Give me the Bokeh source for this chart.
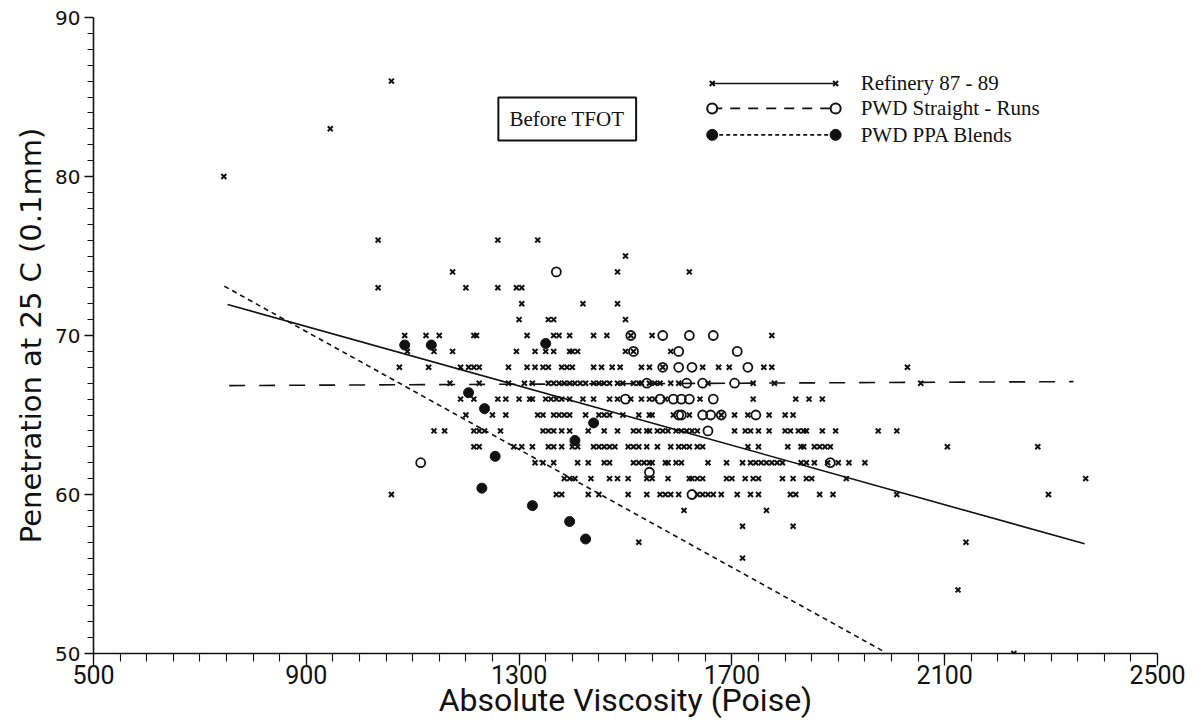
from bokeh.plotting import figure
from bokeh.models import FixedTicker
from bokeh.embed import file_html
from bokeh.resources import INLINE
from bokeh.core.properties import value

# ---------------- data ----------------
# Refinery 87-89 (x markers): viscosity values for each penetration level
r86 = [1060]
r83 = [945]
r80 = [745]
r76 = [1035, 1260, 1335]
r75 = [1500]
r74 = [1175, 1485, 1620]
r73 = [1035, 1200, 1260, 1295, 1305]
r72 = [1305, 1420, 1485]
r71 = [1300, 1355, 1365, 1500]
r70 = [1085, 1125, 1150, 1215, 1220, 1315, 1365, 1375, 1395, 1440, 1465, 1510, 1550, 1775]
r69 = [1090, 1140, 1175, 1295, 1330, 1350, 1365, 1395, 1400, 1410, 1500, 1515, 1585]
r68 = [1075, 1130, 1190, 1205, 1215, 1225, 1280, 1315, 1330, 1345, 1355, 1380, 1390, 1400,
       1440, 1455, 1475, 1490, 1530, 1545, 1570, 1645, 1675, 1695, 1760, 1775, 2030]
r67 = [1170, 1225, 1280, 1310, 1325, 1355, 1365, 1375, 1385, 1395, 1405, 1415, 1425, 1440,
       1450, 1460, 1470, 1485, 1495, 1515, 1525, 1530, 1545, 1555, 1565, 1585, 1600, 1655,
       1740, 1780, 2055]
r66 = [1190, 1215, 1260, 1275, 1300, 1320, 1325, 1350, 1360, 1370, 1380, 1395, 1420, 1440,
       1470, 1485, 1510, 1530, 1545, 1555, 1575, 1640, 1740, 1820, 1845, 1870]
r65 = [1200, 1250, 1275, 1335, 1345, 1365, 1375, 1385, 1395, 1425, 1450, 1460, 1470, 1495,
       1525, 1545, 1550, 1590, 1620, 1680, 1705, 1730, 1770, 1800, 1815]
r64 = [1140, 1160, 1215, 1225, 1235, 1265, 1345, 1355, 1365, 1380, 1395, 1430, 1460, 1485,
       1515, 1525, 1540, 1545, 1560, 1570, 1580, 1595, 1605, 1615, 1625, 1635, 1705, 1725,
       1735, 1750, 1770, 1800, 1810, 1825, 1835, 1840, 1870, 1895, 1975, 2010]
r63 = [1215, 1225, 1290, 1305, 1325, 1355, 1365, 1380, 1400, 1410, 1440, 1450, 1460, 1470,
       1480, 1505, 1515, 1525, 1540, 1560, 1585, 1600, 1610, 1620, 1635, 1645, 1730, 1750,
       1805, 1830, 1835, 1855, 1865, 1875, 1885, 2105, 2275]
r62 = [1330, 1345, 1365, 1410, 1430, 1460, 1470, 1515, 1525, 1535, 1545, 1550, 1575, 1580,
       1595, 1605, 1655, 1690, 1720, 1735, 1745, 1755, 1765, 1775, 1785, 1795, 1830, 1840,
       1855, 1880, 1900, 1920, 1950]
r61 = [1385, 1395, 1405, 1435, 1470, 1485, 1505, 1540, 1550, 1580, 1620, 1625, 1635, 1645,
       1690, 1700, 1725, 1740, 1750, 1795, 1815, 1840, 1850, 1915, 2365]
r60 = [1060, 1370, 1380, 1430, 1450, 1505, 1540, 1565, 1575, 1585, 1600, 1635, 1645, 1655,
       1665, 1680, 1710, 1735, 1750, 1810, 1820, 1865, 1890, 2010, 2295]
r59 = [1610, 1765]
r58 = [1720, 1815]
r57 = [1525, 2140]
r56 = [1720]
r54 = [2125]
r50 = [2230]

refinery_levels = [86, 83, 80, 76, 75, 74, 73, 72, 71, 70, 69, 68, 67, 66, 65, 64, 63,
                   62, 61, 60, 59, 58, 57, 56, 54, 50]
refinery_rows = [r86, r83, r80, r76, r75, r74, r73, r72, r71, r70, r69, r68, r67, r66, r65,
                 r64, r63, r62, r61, r60, r59, r58, r57, r56, r54, r50]

# PWD Straight-Runs (open circles)
sr_visc = [1370, 1510, 1570, 1620, 1665, 1515, 1600, 1710, 1570, 1600, 1625, 1730,
           1540, 1615, 1645, 1705, 1500, 1565, 1590, 1605, 1620, 1665,
           1600, 1605, 1645, 1660, 1680, 1745, 1655, 1115, 1885, 1545, 1625]
sr_pen = [74, 70, 70, 70, 70, 69, 69, 69, 68, 68, 68, 68,
          67, 67, 67, 67, 66, 66, 66, 66, 66, 66,
          65, 65, 65, 65, 65, 65, 64, 62, 62, 61.4, 60]

# PWD PPA Blends (filled circles)
ppa_visc = [1085, 1135, 1350, 1205, 1235, 1255, 1230, 1325, 1395, 1425, 1405, 1440]
ppa_pen = [69.4, 69.4, 69.5, 66.4, 65.4, 62.4, 60.4, 59.3, 58.3, 57.2, 63.4, 64.5]

# fitted regression lines (end points)
refinery_fit_visc = [752, 2363]
refinery_fit_pen = [71.95, 56.9]
sr_fit_visc = [755, 2342]
sr_fit_pen = [66.85, 67.1]
ppa_fit_visc = [746, 1987]
ppa_fit_pen = [73.1, 50.1]

x_major = [500, 900, 1300, 1700, 2100, 2500]
y_major = [50, 60, 70, 80, 90]

legend_labels = ["Refinery  87 - 89", "PWD  Straight - Runs", "PWD  PPA  Blends"]

# ---------------- figure ----------------
p = figure(width=1199, height=727, x_range=(500, 2500), y_range=(50, 90),
           output_backend="svg", toolbar_location=None,
           min_border_left=93, min_border_right=42, min_border_top=17, min_border_bottom=74)
p.outline_line_color = None
p.xgrid.visible = False
p.ygrid.visible = False
p.background_fill_color = "white"
p.border_fill_color = "white"

ref_x = [v for row in refinery_rows for v in row]
ref_y = [lvl for lvl, row in zip(refinery_levels, refinery_rows) for _ in row]

BLACK = "#111111"

# regression lines
p.line(refinery_fit_visc, refinery_fit_pen, line_color=BLACK, line_width=1.6)
p.line(sr_fit_visc, sr_fit_pen, line_color=BLACK, line_width=1.6, line_dash="16 14")
p.line(ppa_fit_visc, ppa_fit_pen, line_color=BLACK, line_width=1.6, line_dash="5 4")

# points
p.scatter(ref_x, ref_y, marker="x", size=7, line_color=BLACK, line_width=2)
p.scatter(sr_visc, sr_pen, marker="circle", size=9, fill_color=None, line_color=BLACK, line_width=1.8)
p.scatter(ppa_visc, ppa_pen, marker="circle", size=10, fill_color=BLACK, line_color=BLACK, line_width=1)

# "Before TFOT" box
p.quad(left=[1261], right=[1520], top=[84.97], bottom=[82.26], fill_color=None,
       line_color=BLACK, line_width=2)
p.text(x=[1390], y=[83.62], text=["Before TFOT"], text_align="center", text_baseline="middle",
       text_font=value("Liberation Serif"), text_font_size="21px", text_color=BLACK)

# manual legend
leg_x0, leg_x1, leg_tx = 1663, 1895, 1942
leg_y = [85.85, 84.28, 82.62]
p.line([leg_x0, leg_x1], [leg_y[0]] * 2, line_color=BLACK, line_width=1.6)
p.scatter([leg_x0, leg_x1], [leg_y[0]] * 2, marker="x", size=7, line_color=BLACK, line_width=2)
p.line([leg_x0, leg_x1], [leg_y[1]] * 2, line_color=BLACK, line_width=1.8, line_dash="10 8")
p.scatter([leg_x0, leg_x1], [leg_y[1]] * 2, marker="circle", size=10, fill_color="white",
          line_color=BLACK, line_width=2)
p.line([leg_x0, leg_x1], [leg_y[2]] * 2, line_color=BLACK, line_width=1.6, line_dash="4 3")
p.scatter([leg_x0, leg_x1], [leg_y[2]] * 2, marker="circle", size=11, fill_color=BLACK,
          line_color=BLACK)
p.text(x=[leg_tx] * 3, y=leg_y, text=legend_labels, text_align="left", text_baseline="middle",
       text_font=value("Liberation Serif"), text_font_size="21px", text_color=BLACK)

# axes
p.xaxis.ticker = FixedTicker(ticks=x_major, minor_ticks=list(range(500, 2501, 50)))
p.yaxis.ticker = FixedTicker(ticks=y_major, minor_ticks=list(range(50, 91, 1)))
for ax in (p.xaxis[0], p.yaxis[0]):
    ax.axis_line_color = BLACK
    ax.axis_line_width = 1.6
    ax.major_tick_line_color = BLACK
    ax.minor_tick_line_color = BLACK
    ax.major_tick_line_width = 1.3
    ax.minor_tick_line_width = 1.1
    ax.major_tick_in = 0
    ax.minor_tick_in = 0
    ax.major_label_text_color = BLACK
    ax.axis_label_text_color = BLACK
    ax.axis_label_text_font_style = "normal"

p.xaxis.major_tick_out = 12
p.xaxis.minor_tick_out = 8
p.yaxis.major_tick_out = 9
p.yaxis.minor_tick_out = 6

p.xaxis.axis_label = "Absolute Viscosity (Poise)"
p.yaxis.axis_label = "Penetration at 25 C (0.1mm)"
p.xaxis.major_label_text_font = "Roboto"
p.xaxis.major_label_text_font_size = "25px"
p.xaxis.axis_label_text_font = "Roboto"
p.xaxis.axis_label_text_font_size = "32px"
p.yaxis.major_label_text_font = "DejaVu Sans"
p.yaxis.major_label_text_font_size = "20px"
p.yaxis.axis_label_text_font = "DejaVu Sans"
p.yaxis.axis_label_text_font_size = "29px"
p.xaxis.major_label_standoff = -1
p.xaxis.axis_label_standoff = -6
p.yaxis.major_label_standoff = 4
p.yaxis.axis_label_standoff = 4

open("out.html", "w").write(file_html(p, INLINE))
